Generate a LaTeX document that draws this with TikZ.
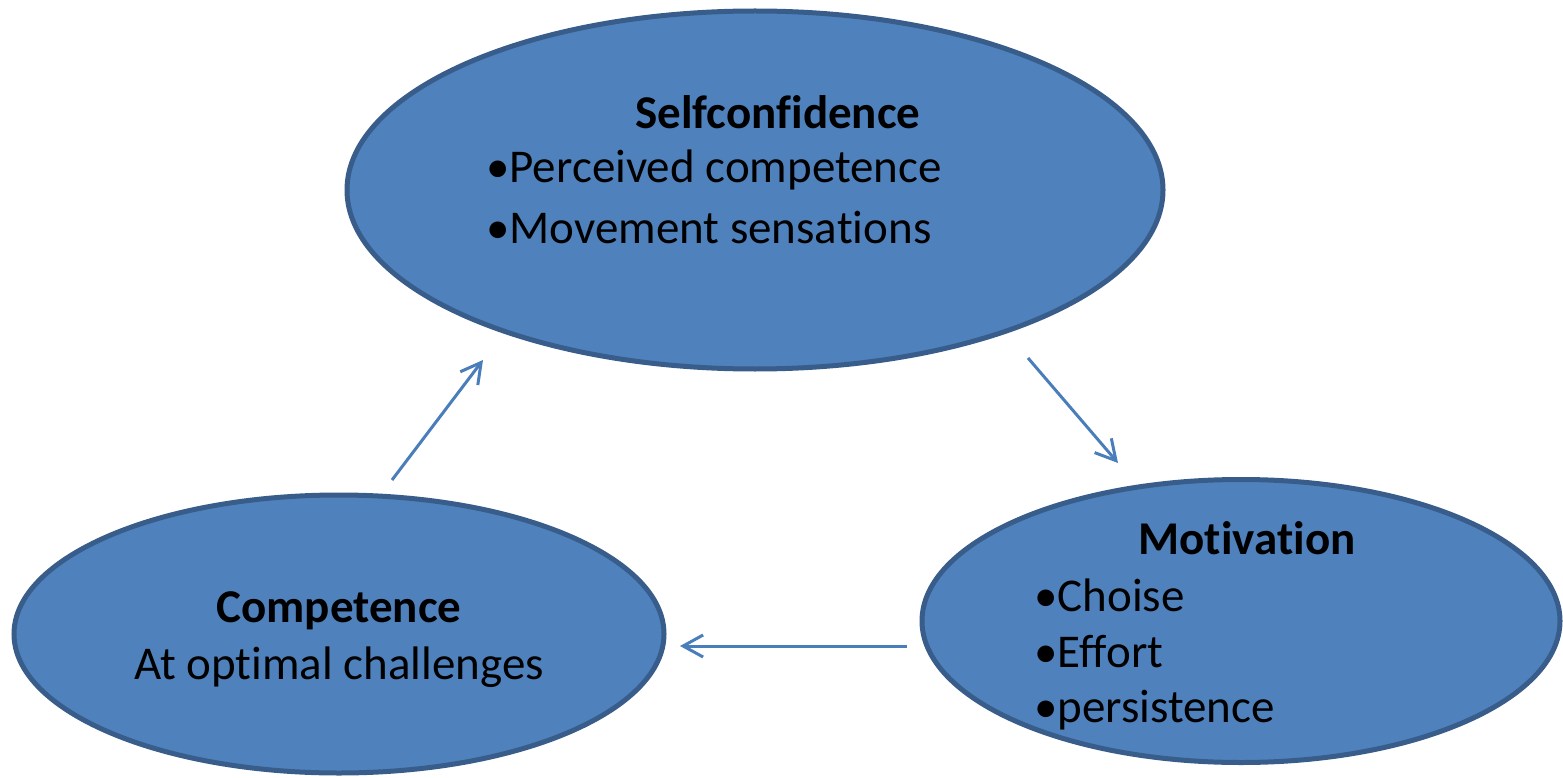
\documentclass[tikz,border=0pt]{standalone}
\usepackage{fontspec}
\setmainfont[Ligatures={NoCommon,NoRequired,NoContextual}]{Carlito}
\usetikzlibrary{arrows.meta,shapes.geometric}
\definecolor{fillblue}{HTML}{4F81BD}
\definecolor{edgeblue}{HTML}{385D8A}
\definecolor{arrowblue}{HTML}{4A7EBB}
\begin{document}
\begin{tikzpicture}[x=1pt,y=-1pt,
  bubble/.style={ellipse,draw=edgeblue,fill=fillblue,line width=5pt,inner sep=0pt,outer sep=0pt},
  label/.style={inner sep=0pt,font=\fontsize{47}{56}\selectfont,text=black},
  title/.style={label,font=\fontsize{47}{56}\selectfont\bfseries},
  flow/.style={draw=arrowblue,line width=3pt,-{Straight Barb[length=20pt,width=22pt,line width=3pt]}}]
\useasboundingbox (0,0) rectangle (1563,778);
\node[bubble,minimum width=816pt,minimum height=358pt] (self) at (755,190) {};
\node[bubble,minimum width=650pt,minimum height=278pt] (comp) at (339,634) {};
\node[bubble,minimum width=638pt,minimum height=283pt] (moti) at (1241,621) {};
\node[title] (selft) at (778,112) {Selfconfidence};
\node[label,anchor=west] (s1) at (486,170) {•Perceived competence};
\node[label,anchor=west] (s2) at (486,228) {•Movement sensations};
\node[title] (compt) at (339,611) {Competence};
\node[label] (c1) at (339,667) {At optimal challenges};
\node[title] (motit) at (1247,538) {Motivation};
\node[label,anchor=west] (m1) at (1034,595) {•Choise};
\node[label,anchor=west] (m2) at (1034,652) {•Effort};
\node[label,anchor=west] (m3) at (1034,710) {•persistence};
\coordinate (a1s) at (392,480);
\coordinate (a1e) at (483,360);
\coordinate (a2s) at (1028,358);
\coordinate (a2e) at (1118,463);
\coordinate (a3s) at (907,646);
\coordinate (a3e) at (680,646);
\draw[flow] (a1s) -- (a1e);
\draw[flow] (a2s) -- (a2e);
\draw[flow] (a3s) -- (a3e);
\end{tikzpicture}
\end{document}
